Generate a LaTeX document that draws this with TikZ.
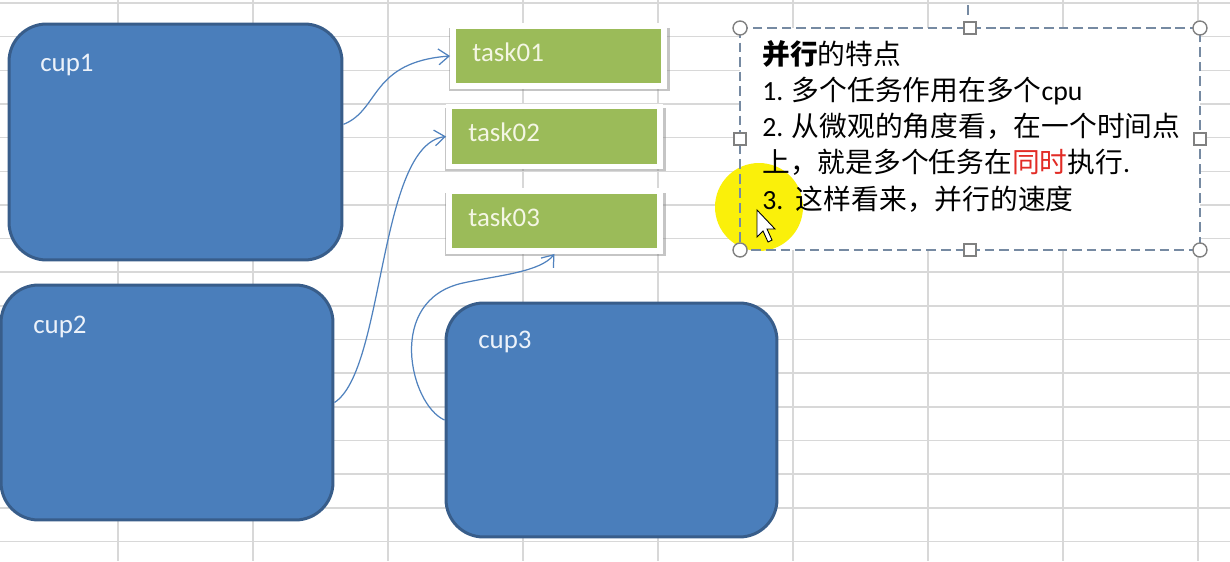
\documentclass[tikz,border=0pt]{standalone}
\usepackage{fontspec}
\setmainfont{Carlito}
\newfontfamily\cjk{Noto Sans CJK SC}
\usetikzlibrary{arrows.meta,shadows}

\definecolor{cupblue}{RGB}{74,126,187}
\definecolor{cupedge}{RGB}{56,93,138}
\definecolor{cuptext}{RGB}{236,242,250}
\definecolor{taskgreen}{RGB}{155,187,89}
\definecolor{tasktext}{RGB}{244,246,228}
\definecolor{gridgray}{RGB}{216,216,216}
\definecolor{flowblue}{RGB}{80,130,190}
\definecolor{notedash}{RGB}{118,138,162}
\definecolor{hiyellow}{RGB}{250,240,10}
\definecolor{hotred}{RGB}{226,44,38}

\tikzset{
  gridline/.style={draw=gridgray, line width=0.85pt},
  cupbox/.style={rectangle, rounded corners=0.75cm, fill=cupblue, draw=cupedge, line width=1.7pt},
  cuplabel/.style={anchor=base west, inner sep=0pt, text=cuptext, font=\fontsize{15.3}{18}\selectfont},
  taskbox/.style={rectangle, fill=taskgreen, draw=white, line width=3.4pt,
    minimum width=4.22cm, minimum height=1.2cm,
    drop shadow={shadow xshift=0.6pt, shadow yshift=-1.8pt, shadow scale=1.05, opacity=0.45}},
  tasklabel/.style={anchor=base west, inner sep=0pt, text=tasktext, font=\fontsize{15.3}{18}\selectfont},
  flow/.style={draw=flowblue, line width=0.7pt, -{Straight Barb[length=6pt,width=9pt]}},
  notebox/.style={rectangle, fill=white, outer sep=0pt, minimum width=9.2cm, minimum height=4.44cm},
  noteline/.style={draw=notedash, line width=0.9pt, dash pattern=on 5.5pt off 2.8pt},
  handle/.style={fill=white, draw=gray, line width=0.8pt},
  sqhandle/.style={rectangle, fill=white, draw=gray, line width=0.8pt, minimum size=0.24cm, inner sep=0pt},
  notetext/.style={anchor=base west, inner sep=0pt, font=\fontsize{15.8}{19}\selectfont}
}

\begin{document}
\begin{tikzpicture}[x=0.02cm,y=-0.02cm]

\fill[white] (0,0) rectangle (1230,561);
\useasboundingbox (0,0) rectangle (1230,561);

% sheet grid
\foreach \x in {118,253,...,1198}
    \draw[gridline] (\x,0) -- (\x,561);
\foreach \k in {0,...,16}
    \draw[gridline] (0,{3+33.65*\k}) -- (1230,{3+33.65*\k});

% cpus
\node[cupbox, minimum width=6.66cm, minimum height=4.72cm] (cup1) at (175.5,142) {};
\node[cupbox, minimum width=6.64cm, minimum height=4.7cm] (cup2) at (167,402.5) {};
\node[cupbox, minimum width=6.62cm, minimum height=4.68cm] (cup3) at (611.5,420) {};

\node[cuplabel] (cup1text) at (40,71) {cup1};
\node[cuplabel] (cup2text) at (33,333) {cup2};
\node[cuplabel] (cup3text) at (478,348) {cup3};

% tasks
\foreach \n/\x/\y in {01/558.5/56, 02/554.5/136.5, 03/554.5/221}{
    \node[taskbox] (task\n) at (\x,\y) {};
    \node[tasklabel] (task\n text) at ({\x-86.5},{\y+5}) {task\n};
}

\draw[flow] (cup1.6) .. controls (380,110) and (370,62) .. (task01.west);
\draw[flow] (cup2.east) .. controls (385,370) and (378,145) .. (task02.west);
\draw[flow] (cup3.west) .. controls (410,405) and (385,300) .. (463,283)
    .. controls (500,275) and (540,272) .. (task03.south);

% text box
\node[notebox] (note) at (970,139) {};
\fill[hiyellow] (759,207) circle (0.88cm);
\draw[noteline] (note.north west) rectangle (note.south east);
\draw[noteline] (968,5) -- (968,16);

\foreach \a in {north west,north east,south west,south east}
    \draw[handle] (note.\a) circle (0.14cm);
\foreach \a [count=\i] in {north,south,west,east}
    \node[sqhandle] (side\i) at (note.\a) {};

\foreach \t [count=\i] in {{\cjk\textbf{并行}的特点},
    {1. {\cjk 多个任务作用在多个}cpu},
    {2. {\cjk 从微观的角度看，在一个时间点}},
    {{\cjk 上，就是多个任务在{\color{hotred}同时}执行}.},
    {3.\ \ {\cjk 这样看来，并行的速度}}}
    \node[notetext] (line\i) at (762,{28+36.2*\i}) {\t};

% mouse pointer
\filldraw[fill=white, draw=black, line width=0.5pt] (757,210) -- ++(0,27) -- ++(6,-6)
    -- ++(5,11) -- ++(4,-2) -- ++(-5,-11) -- ++(8,0) -- cycle;

\end{tikzpicture}
\end{document}
